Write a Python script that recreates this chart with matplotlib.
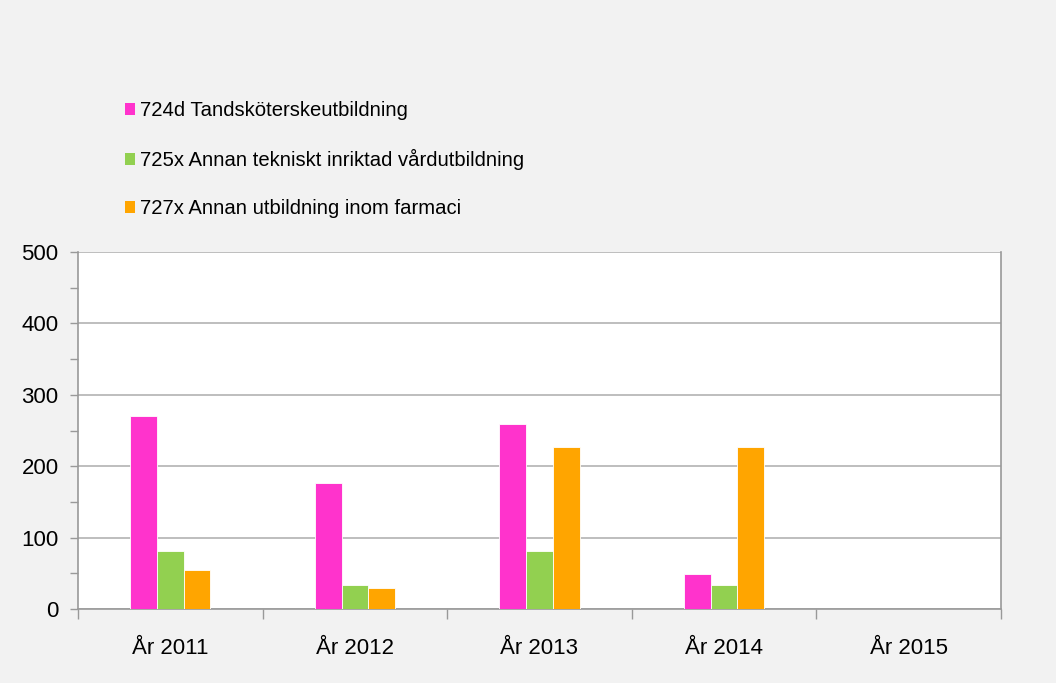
import matplotlib
matplotlib.use("Agg")
import matplotlib.pyplot as plt
from matplotlib.patches import Patch
import numpy as np

categories = ["År 2011", "År 2012", "År 2013", "År 2014", "År 2015"]
series_names = ["724d Tandsköterskeutbildning",
                "725x Annan tekniskt inriktad vårdutbildning",
                "727x Annan utbildning inom farmaci"]
tandskoterska = [270, 177, 259, 49, 0]
teknisk_vard = [81, 34, 81, 34, 0]
farmaci = [55, 29, 227, 227, 0]
colors = ["#FF33CC", "#92D050", "#FFA500"]

plt.rcParams['font.family'] = ['Liberation Sans', 'DejaVu Sans']

fig = plt.figure(figsize=(10.56, 6.83), dpi=100, facecolor="#f2f2f2")
ax = fig.add_axes([78/1056, 1 - 609/683, (1001-78)/1056, (609-252)/683])
ax.set_facecolor("white")

x = np.arange(len(categories))
w = 0.145
for i, (vals, c) in enumerate(zip([tandskoterska, teknisk_vard, farmaci], colors)):
    ax.bar(x + (i - 1) * w, vals, width=w, color=c, edgecolor="#ffffff",
           linewidth=0.6, zorder=3)

ax.set_xlim(-0.5, len(categories) - 0.5)
ax.set_ylim(0, 500)
ax.set_yticks(np.arange(0, 501, 100))
ax.set_yticks(np.arange(50, 500, 100), minor=True)
ax.yaxis.grid(True, which="major", color="#b3b3b3", linewidth=1.2, zorder=0)

ax.set_xticks(np.arange(-0.5, len(categories), 1.0))
ax.set_xticklabels([])
ax.set_xticks(x, minor=True)
ax.set_xticklabels(categories, minor=True)
ax.tick_params(axis="x", which="major", direction="out", length=7, color="#999999", width=1)
ax.tick_params(axis="x", which="minor", length=0, pad=21, labelsize=16)
ax.tick_params(axis="y", which="both", direction="out", length=6, color="#999999", width=1,
               labelsize=16, pad=8)

for s in ["left", "bottom", "right"]:
    ax.spines[s].set_color("#999999")
    ax.spines[s].set_linewidth(1.2)
ax.spines["top"].set_visible(False)

handles = [Patch(facecolor=c, edgecolor="none") for c in colors]
fig.legend(handles, series_names, loc="upper left", bbox_to_anchor=(125/1056, 1 - 101/683),
           frameon=False, fontsize=14.6, handlelength=0.5, handleheight=0.5,
           handletextpad=0.25, labelspacing=1.43, borderpad=0, borderaxespad=0)

fig.savefig("out.png", dpi=100, facecolor=fig.get_facecolor())
